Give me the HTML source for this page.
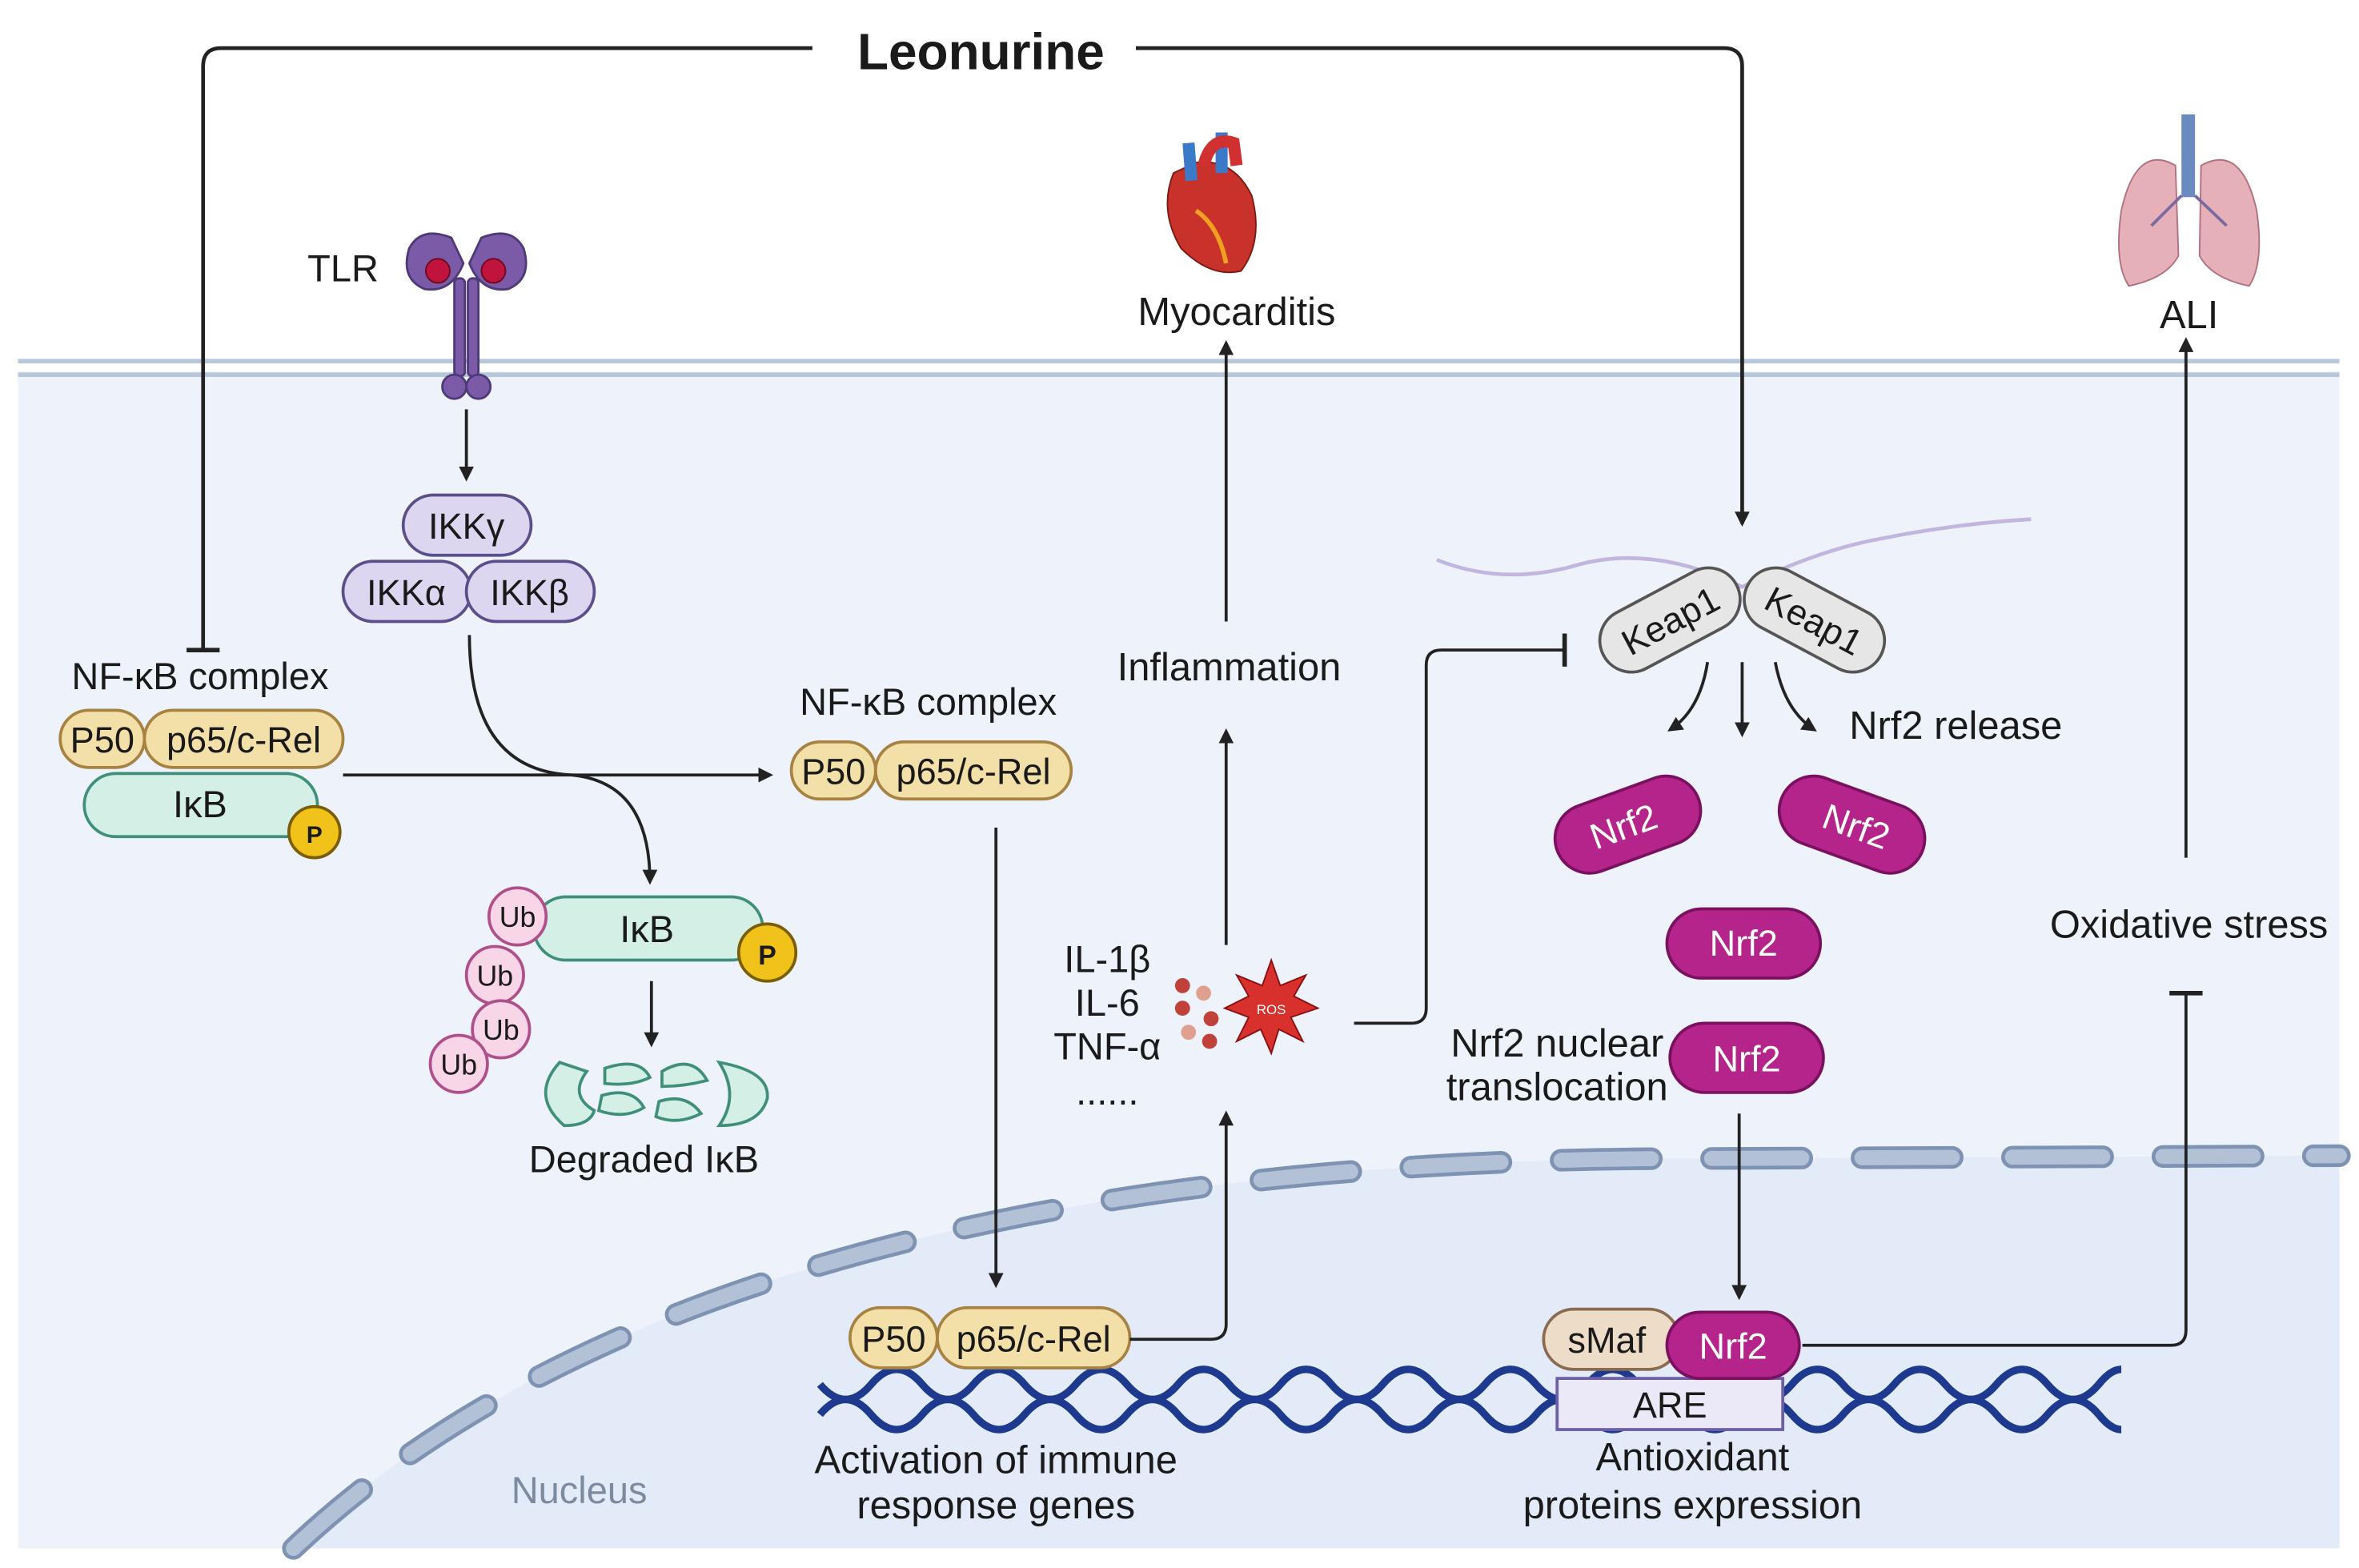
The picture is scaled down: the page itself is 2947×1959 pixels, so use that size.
<!DOCTYPE html>
<html><head><meta charset="utf-8"><style>
html,body{margin:0;padding:0;background:#fff;}
svg{display:block;}
text{font-family:"Liberation Sans",sans-serif;fill:#1a1a1a;}
</style></head><body>
<svg width="2947" height="1959" viewBox="0 0 1568 1042" preserveAspectRatio="none" xmlns="http://www.w3.org/2000/svg">
<defs>
<marker id="ar" markerWidth="10" markerHeight="10" refX="8" refY="5" orient="auto" markerUnits="userSpaceOnUse"><path d="M0,0 L10,5 L0,10 Z" fill="#222"/></marker>
</defs>
<rect width="1568" height="1042" fill="#fff"/>
<rect x="12" y="247" width="1543" height="782" fill="#eef3fb"/>
<line x1="12" y1="240" x2="1555" y2="240" stroke="#b7c7db" stroke-width="3"/>
<line x1="12" y1="249" x2="1555" y2="249" stroke="#b7c7db" stroke-width="3"/>
<path d="M195,1029 C400,835 750,772 1100,770 L1555,768 L1555,1029 Z" fill="#e3ebf8"/>
<path d="M195,1029 C400,835 750,772 1100,770 L1555,768" fill="none" stroke="#7e93b3" stroke-width="15" stroke-dasharray="60,40" stroke-linecap="round"/>
<path d="M195,1029 C400,835 750,772 1100,770 L1555,768" fill="none" stroke="#b3c1d6" stroke-width="10" stroke-dasharray="60,40" stroke-linecap="round"/>
<text x="385" y="999" font-size="25" text-anchor="middle" style="fill:#7d8ba0">Nucleus</text>

<text x="652" y="46" font-size="34" font-weight="bold" text-anchor="middle">Leonurine</text>
<path d="M540,32 L147,32 Q135,32 135,44 L135,432" fill="none" stroke="#222" stroke-width="2.5"/>
<line x1="124" y1="432" x2="146" y2="432" stroke="#222" stroke-width="3"/>
<path d="M755,32 L1146,32 Q1158,32 1158,44 L1158,348" fill="none" stroke="#222" stroke-width="2.5" marker-end="url(#ar)"/>

<text x="228" y="187" font-size="25" text-anchor="middle">TLR</text>
<g fill="#7b5ba8" stroke="#4e3a78" stroke-width="1.5">
<path d="M272,165 Q280,150 300,158 L308,175 Q300,195 282,192 Q266,185 272,165 Z"/>
<path d="M348,165 Q340,150 320,158 L312,175 Q320,195 338,192 Q354,185 348,165 Z"/>
<rect x="302" y="185" width="7" height="65" rx="3"/>
<rect x="311" y="185" width="7" height="65" rx="3"/>
<ellipse cx="302" cy="257" rx="8" ry="8"/><ellipse cx="318" cy="257" rx="8" ry="8"/>
</g>
<circle cx="291" cy="180" r="8" fill="#c0143c" stroke="#6a0a20"/>
<circle cx="328" cy="180" r="8" fill="#c0143c" stroke="#6a0a20"/>
<line x1="310" y1="272" x2="310" y2="318" stroke="#222" stroke-width="2" marker-end="url(#ar)"/>

<g fill="#dcd6f0" stroke="#5b4e8a" stroke-width="2">
<rect x="268" y="329" width="85" height="40" rx="20"/>
<rect x="228" y="373" width="85" height="40" rx="20"/>
<rect x="310" y="373" width="85" height="40" rx="20"/>
</g>
<text x="310" y="358" font-size="24" text-anchor="middle">IKKγ</text>
<text x="270" y="402" font-size="24" text-anchor="middle">IKKα</text>
<text x="352" y="402" font-size="24" text-anchor="middle">IKKβ</text>

<text x="133" y="458" font-size="25" text-anchor="middle">NF-κB complex</text>
<rect x="56" y="514" width="155" height="42" rx="21" fill="#d4efe6" stroke="#3f8f7b" stroke-width="2"/>
<text x="133" y="543" font-size="25" text-anchor="middle">IκB</text>
<g fill="#f3dfa8" stroke="#a78240" stroke-width="2">
<rect x="40" y="472" width="56" height="38" rx="19"/>
<rect x="96" y="472" width="132" height="38" rx="19"/>
</g>
<text x="68" y="500" font-size="24" text-anchor="middle">P50</text>
<text x="162" y="500" font-size="24" text-anchor="middle">p65/c-Rel</text>
<circle cx="209" cy="553" r="17" fill="#f1c31a" stroke="#7a5e00" stroke-width="2"/>
<text x="209" y="560" font-size="16" font-weight="bold" text-anchor="middle">P</text>
<line x1="228" y1="515" x2="512" y2="515" stroke="#222" stroke-width="2" marker-end="url(#ar)"/>
<path d="M312,422 Q312,512 380,515" fill="none" stroke="#222" stroke-width="2"/>
<path d="M380,515 Q432,520 432,586" fill="none" stroke="#222" stroke-width="2" marker-end="url(#ar)"/>

<rect x="355" y="596" width="152" height="42" rx="21" fill="#d4efe6" stroke="#3f8f7b" stroke-width="2"/>
<text x="430" y="626" font-size="25" text-anchor="middle">IκB</text>
<circle cx="510" cy="633" r="19" fill="#f1c31a" stroke="#7a5e00" stroke-width="2"/>
<text x="510" y="641" font-size="18" font-weight="bold" text-anchor="middle">P</text>
<g fill="#f8d6e8" stroke="#b0508a" stroke-width="2">
<circle cx="344" cy="609" r="19"/><circle cx="329" cy="648" r="19"/><circle cx="333" cy="684" r="19"/><circle cx="305" cy="707" r="19"/>
</g>
<text x="344" y="616" font-size="19" text-anchor="middle">Ub</text>
<text x="329" y="655" font-size="19" text-anchor="middle">Ub</text>
<text x="333" y="691" font-size="19" text-anchor="middle">Ub</text>
<text x="305" y="714" font-size="19" text-anchor="middle">Ub</text>
<line x1="433" y1="652" x2="433" y2="694" stroke="#222" stroke-width="2" marker-end="url(#ar)"/>
<g fill="#d4efe6" stroke="#3f8f7b" stroke-width="2">
<path d="M372,706 Q352,728 375,748 Q392,748 395,738 Q378,728 390,712 Z"/>
<path d="M402,710 Q425,702 432,716 Q420,722 402,720 Z M400,728 Q420,722 428,736 Q415,744 398,738 Z"/>
<path d="M440,712 Q460,700 470,718 Q455,722 440,722 Z M438,732 Q456,726 466,740 Q450,748 436,742 Z"/>
<path d="M478,706 Q512,712 510,730 Q505,748 478,748 Q492,728 478,706 Z"/>
</g>
<text x="428" y="779" font-size="25" text-anchor="middle">Degraded IκB</text>

<text x="617" y="475" font-size="25" text-anchor="middle">NF-κB complex</text>
<g fill="#f3dfa8" stroke="#a78240" stroke-width="2">
<rect x="526" y="493" width="56" height="38" rx="19"/>
<rect x="582" y="493" width="130" height="38" rx="19"/>
</g>
<text x="554" y="521" font-size="24" text-anchor="middle">P50</text>
<text x="647" y="521" font-size="24" text-anchor="middle">p65/c-Rel</text>
<line x1="662" y1="550" x2="662" y2="854" stroke="#222" stroke-width="2" marker-end="url(#ar)"/>

<g fill="none" stroke="#1d3a8f" stroke-width="5">
<path d="M545,920 q17,20 34,0 q17,-20 34,0 q17,20 34,0 q17,-20 34,0 q17,20 34,0 q17,-20 34,0 q17,20 34,0 q17,-20 34,0 q17,20 34,0 q17,-20 34,0 q17,20 34,0 q17,-20 34,0 q17,20 34,0 q17,-20 34,0 q17,20 34,0 q17,-20 34,0 q17,20 34,0 q17,-20 34,0 q17,20 34,0 q17,-20 34,0 q17,20 34,0 q17,-20 34,0 q17,20 34,0 q17,-20 34,0 q17,20 34,0 q8,-10 15,-10"/>
<path d="M545,940 q17,-20 34,0 q17,20 34,0 q17,-20 34,0 q17,20 34,0 q17,-20 34,0 q17,20 34,0 q17,-20 34,0 q17,20 34,0 q17,-20 34,0 q17,20 34,0 q17,-20 34,0 q17,20 34,0 q17,-20 34,0 q17,20 34,0 q17,-20 34,0 q17,20 34,0 q17,-20 34,0 q17,20 34,0 q17,-20 34,0 q17,20 34,0 q17,-20 34,0 q17,20 34,0 q17,-20 34,0 q17,20 34,0 q17,-20 34,0 q8,10 15,10"/>
</g>
<rect x="1035" y="916" width="150" height="34" fill="#ebe8f8" stroke="#6c5fa8" stroke-width="2"/>
<text x="1110" y="942" font-size="24" text-anchor="middle">ARE</text>
<g fill="#f3dfa8" stroke="#a78240" stroke-width="2">
<rect x="565" y="869" width="58" height="40" rx="20"/>
<rect x="623" y="869" width="128" height="40" rx="20"/>
</g>
<text x="594" y="898" font-size="24" text-anchor="middle">P50</text>
<text x="687" y="898" font-size="24" text-anchor="middle">p65/c-Rel</text>
<path d="M751,890 L805,890 Q815,890 815,880 L815,740" fill="none" stroke="#222" stroke-width="2" marker-end="url(#ar)"/>
<text x="662" y="979" font-size="26" text-anchor="middle">Activation of immune</text>
<text x="662" y="1009" font-size="26" text-anchor="middle">response genes</text>

<rect x="1026" y="870" width="90" height="40" rx="20" fill="#ecdcc8" stroke="#8a6b50" stroke-width="2"/>
<text x="1068" y="899" font-size="24" text-anchor="middle">sMaf</text>
<rect x="1108" y="872" width="88" height="44" rx="22" fill="#b5248a" stroke="#7a1060" stroke-width="2"/>
<text x="1152" y="903" font-size="24" text-anchor="middle" style="fill:#fff">Nrf2</text>
<text x="1125" y="977" font-size="26" text-anchor="middle">Antioxidant</text>
<text x="1125" y="1009" font-size="26" text-anchor="middle">proteins expression</text>

<text x="736" y="646" font-size="25" text-anchor="middle">IL-1β</text>
<text x="736" y="675" font-size="25" text-anchor="middle">IL-6</text>
<text x="736" y="704" font-size="25" text-anchor="middle">TNF-α</text>
<text x="736" y="734" font-size="25" text-anchor="middle">......</text>
<g fill="#c0403a"><circle cx="786" cy="655" r="5"/><circle cx="800" cy="660" r="5" fill="#e0a090"/><circle cx="786" cy="670" r="5"/><circle cx="805" cy="677" r="5"/><circle cx="790" cy="686" r="5" fill="#e0a090"/><circle cx="804" cy="692" r="5"/></g>
<path d="M845,638 L851,655 L868,648 L860,662 L876,670 L858,676 L866,692 L850,684 L845,700 L838,684 L822,692 L830,676 L814,670 L830,662 L822,648 L839,655 Z" fill="#d8302c" stroke="#8a1010"/>
<text x="845" y="674" font-size="9" text-anchor="middle" style="fill:#fff">ROS</text>
<line x1="815" y1="628" x2="815" y2="486" stroke="#222" stroke-width="2" marker-end="url(#ar)"/>
<text x="817" y="452" font-size="26" text-anchor="middle">Inflammation</text>
<line x1="815" y1="413" x2="815" y2="228" stroke="#222" stroke-width="2" marker-end="url(#ar)"/>
<text x="822" y="216" font-size="26" text-anchor="middle">Myocarditis</text>
<path d="M780,115 Q770,140 785,165 Q805,185 825,180 Q840,160 832,130 Q820,105 795,108 Z" fill="#c8322a" stroke="#7a1a10"/>
<path d="M790,95 L792,120 M812,88 L812,115" stroke="#3a7ac8" stroke-width="8"/>
<path d="M800,110 Q805,90 820,95 L822,110" fill="none" stroke="#d03030" stroke-width="8"/>
<path d="M795,140 Q810,150 815,175" fill="none" stroke="#f0a020" stroke-width="3"/>

<path d="M955,372 Q1000,390 1050,375 Q1100,362 1158,390 Q1210,365 1250,358 Q1300,348 1350,345" fill="none" stroke="#c2b6e0" stroke-width="2.5"/>
<path d="M900,680 L938,680 Q948,680 948,670 L948,442 Q948,432 958,432 L1040,432" fill="none" stroke="#222" stroke-width="2"/>
<line x1="1040" y1="421" x2="1040" y2="443" stroke="#222" stroke-width="3"/>
<g transform="translate(1110,412) rotate(-28)"><rect x="-50" y="-21" width="100" height="42" rx="21" fill="#e6e6e6" stroke="#555" stroke-width="2"/><text x="0" y="9" font-size="24" text-anchor="middle">Keap1</text></g>
<g transform="translate(1206,412) rotate(28)"><rect x="-50" y="-21" width="100" height="42" rx="21" fill="#e6e6e6" stroke="#555" stroke-width="2"/><text x="0" y="9" font-size="24" text-anchor="middle">Keap1</text></g>
<path d="M1135,440 Q1130,472 1110,485" fill="none" stroke="#222" stroke-width="2" marker-end="url(#ar)"/>
<line x1="1158" y1="440" x2="1158" y2="488" stroke="#222" stroke-width="2" marker-end="url(#ar)"/>
<path d="M1180,440 Q1186,472 1206,485" fill="none" stroke="#222" stroke-width="2" marker-end="url(#ar)"/>
<text x="1300" y="491" font-size="26" text-anchor="middle">Nrf2 release</text>
<g fill="#b5248a" stroke="#7a1060" stroke-width="2">
<g transform="translate(1082,548) rotate(-20)"><rect x="-50" y="-23" width="100" height="46" rx="23"/></g>
<g transform="translate(1231,548) rotate(20)"><rect x="-50" y="-23" width="100" height="46" rx="23"/></g>
<rect x="1108" y="604" width="102" height="46" rx="23"/>
<rect x="1110" y="680" width="102" height="46" rx="23"/>
</g>
<text transform="translate(1082,557) rotate(-20)" font-size="24" text-anchor="middle" style="fill:#fff">Nrf2</text>
<text transform="translate(1231,557) rotate(20)" font-size="24" text-anchor="middle" style="fill:#fff">Nrf2</text>
<text x="1159" y="635" font-size="24" text-anchor="middle" style="fill:#fff">Nrf2</text>
<text x="1161" y="712" font-size="24" text-anchor="middle" style="fill:#fff">Nrf2</text>
<text x="1035" y="702" font-size="26" text-anchor="middle">Nrf2 nuclear</text>
<text x="1035" y="731" font-size="26" text-anchor="middle">translocation</text>
<line x1="1156" y1="740" x2="1156" y2="862" stroke="#222" stroke-width="2" marker-end="url(#ar)"/>

<path d="M1198,894 L1443,894 Q1453,894 1453,884 L1453,660" fill="none" stroke="#222" stroke-width="2"/>
<line x1="1442" y1="660" x2="1464" y2="660" stroke="#222" stroke-width="3"/>
<text x="1455" y="623" font-size="26" text-anchor="middle">Oxidative stress</text>
<line x1="1453" y1="570" x2="1453" y2="226" stroke="#222" stroke-width="2" marker-end="url(#ar)"/>
<text x="1455" y="218" font-size="26" text-anchor="middle">ALI</text>
<rect x="1450" y="76" width="9" height="55" fill="#6a8ac0"/>
<path d="M1446,110 Q1420,95 1410,140 Q1405,175 1415,190 Q1440,185 1448,170 Z" fill="#e6b0b8" stroke="#b07080"/>
<path d="M1463,110 Q1490,95 1500,140 Q1505,175 1495,190 Q1470,185 1462,170 Z" fill="#e6b0b8" stroke="#b07080"/>
<path d="M1450,130 L1430,150 M1459,130 L1480,150" stroke="#7a6aa0" stroke-width="2"/>
</svg>
</body></html>
